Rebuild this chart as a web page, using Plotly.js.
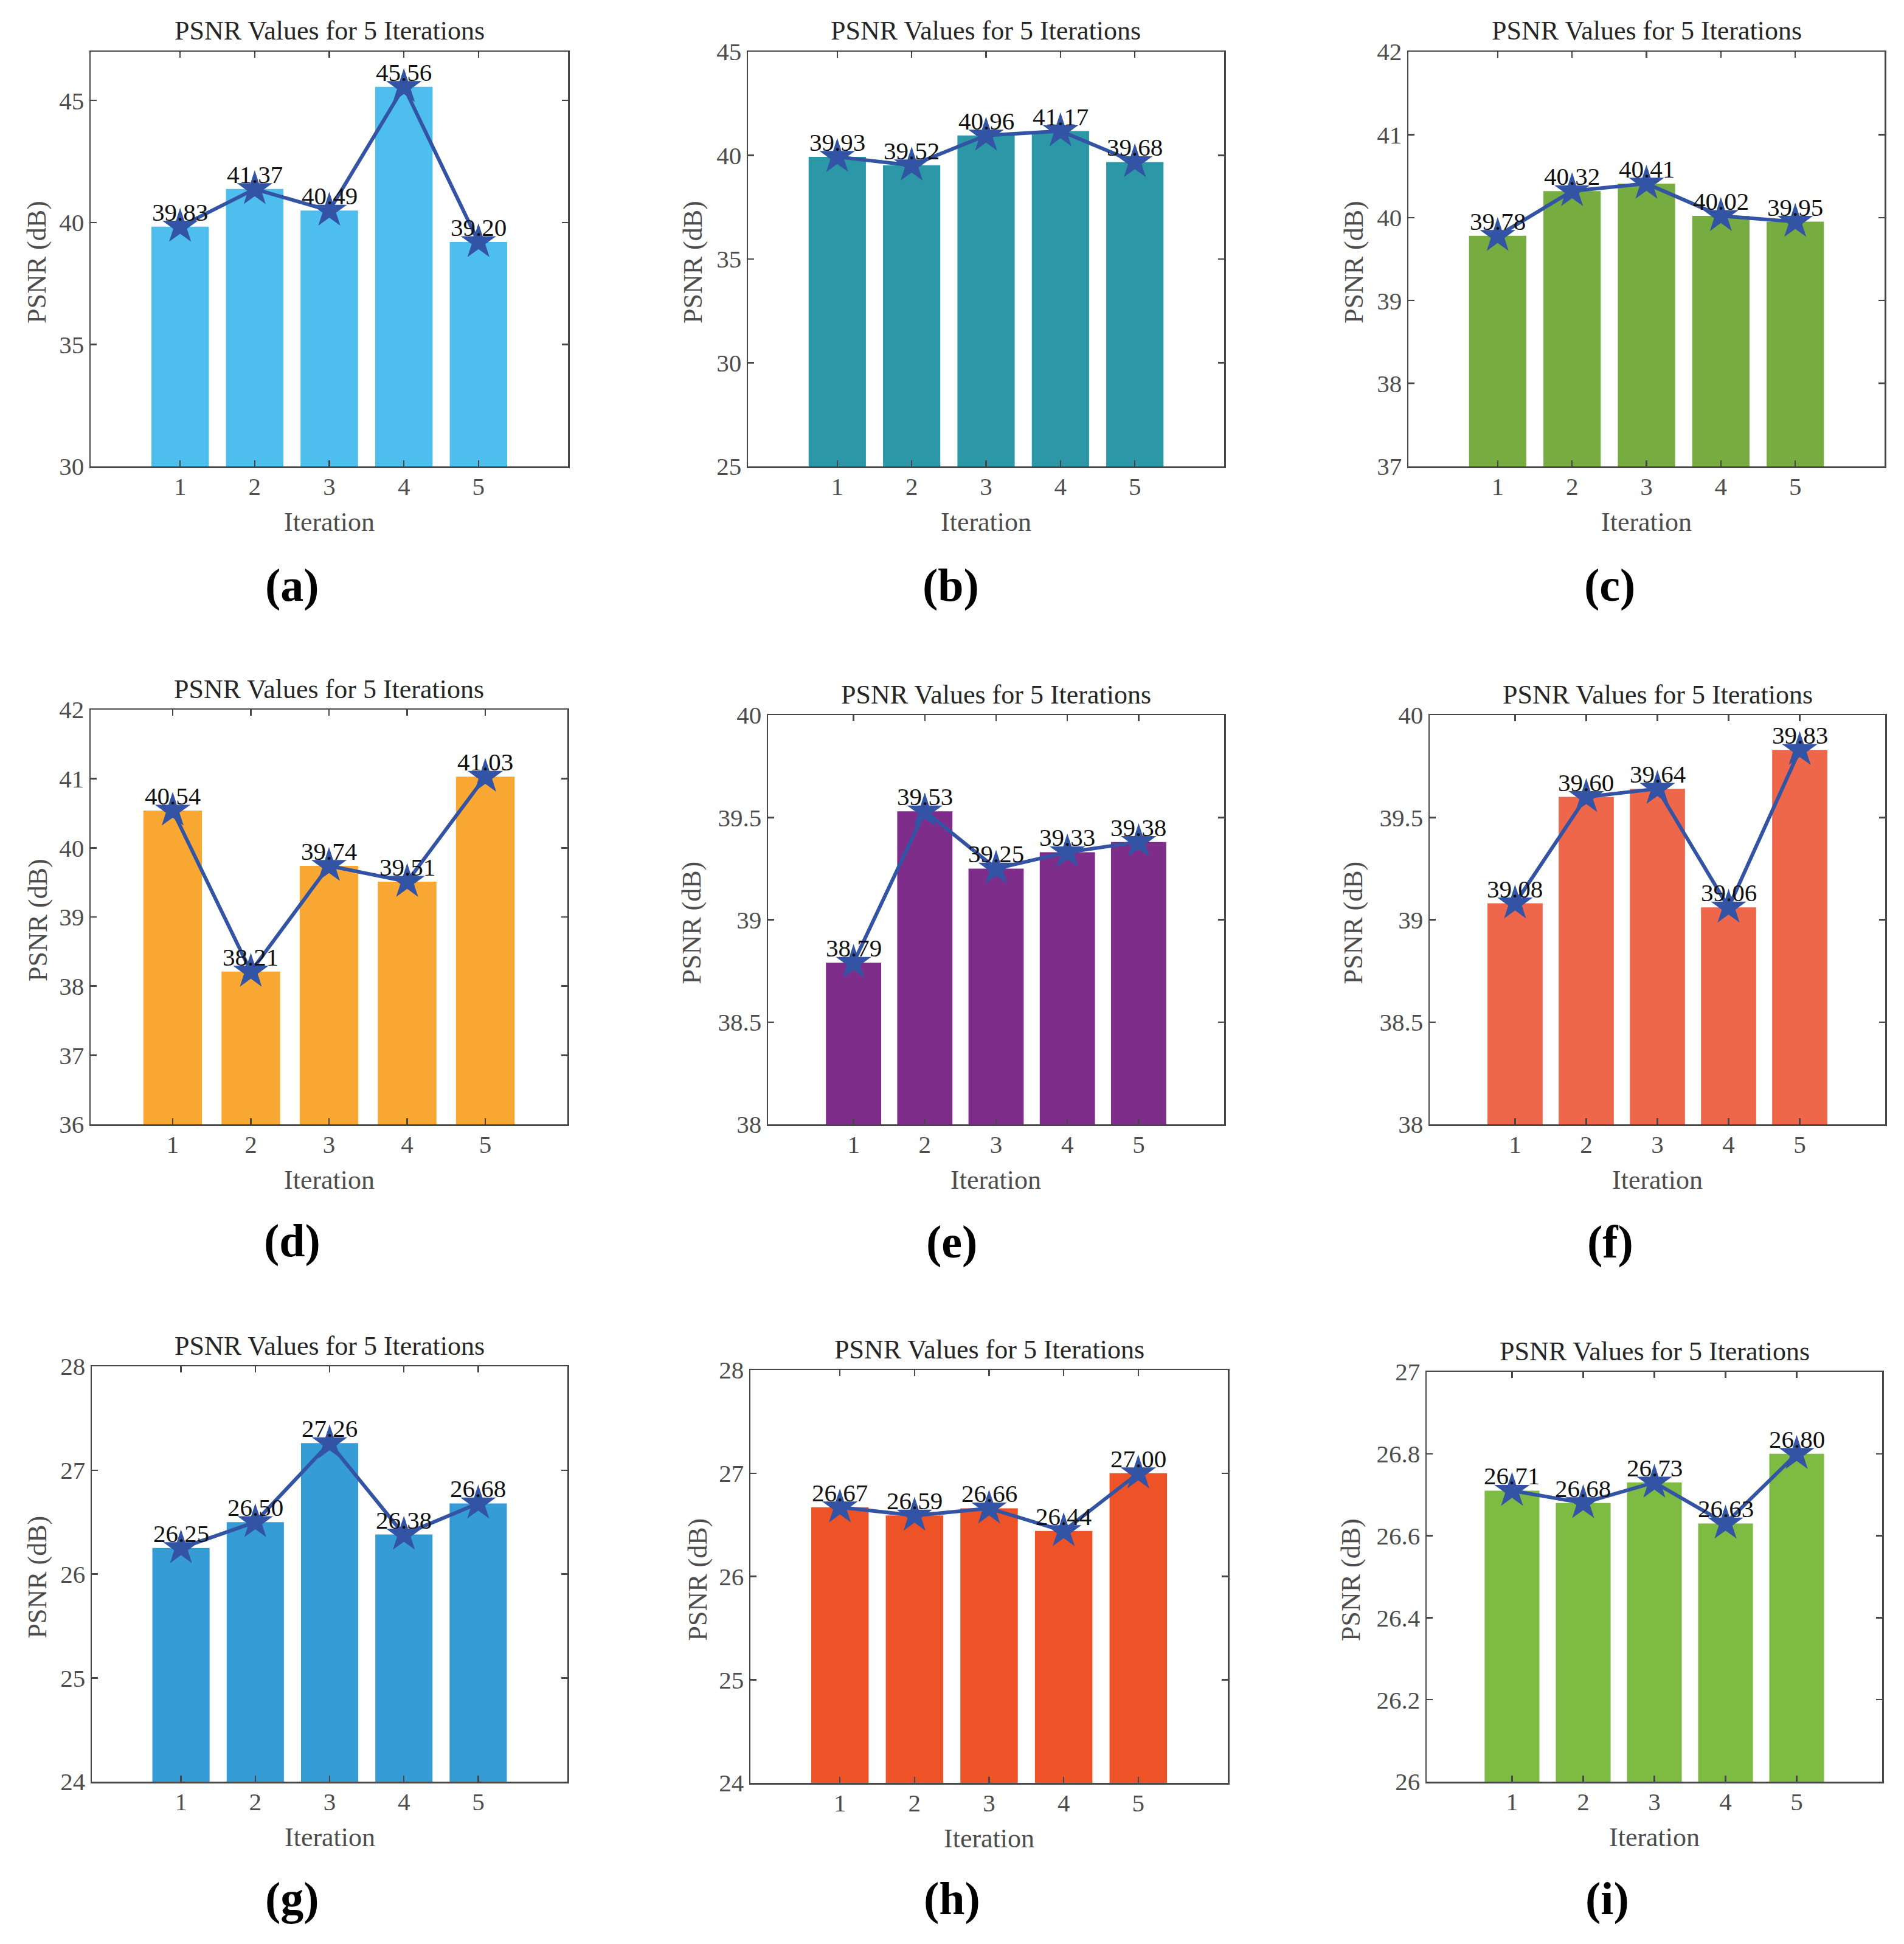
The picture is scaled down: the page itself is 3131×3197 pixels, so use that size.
<!DOCTYPE html>
<html>
<head>
<meta charset="utf-8">
<script src="https://cdn.plot.ly/plotly-3.0.1.min.js"></script>
<style>
html,body{margin:0;padding:0;background:#fff;}
#chart{width:3131px;height:3197px;}
</style>
</head>
<body>
<div id="chart"></div>
<script>
// ---------------- data ----------------
const iterations = [1, 2, 3, 4, 5];
const iterationLabels = ['1', '2', '3', '4', '5'];
const psnrA = [39.83, 41.37, 40.49, 45.56, 39.20];
const psnrB = [39.93, 39.52, 40.96, 41.17, 39.68];
const psnrC = [39.78, 40.32, 40.41, 40.02, 39.95];
const psnrD = [40.54, 38.21, 39.74, 39.51, 41.03];
const psnrE = [38.79, 39.53, 39.25, 39.33, 39.38];
const psnrF = [39.08, 39.60, 39.64, 39.06, 39.83];
const psnrG = [26.25, 26.50, 27.26, 26.38, 26.68];
const psnrH = [26.67, 26.59, 26.66, 26.44, 27.00];
const psnrI = [26.71, 26.68, 26.73, 26.63, 26.80];
const yTicksA = [30, 35, 40, 45];
const yTicksB = [25, 30, 35, 40, 45];
const yTicksC = [37, 38, 39, 40, 41, 42];
const yTicksD = [36, 37, 38, 39, 40, 41, 42];
const yTicksE = [38, 38.5, 39, 39.5, 40];
const yTicksF = [38, 38.5, 39, 39.5, 40];
const yTicksG = [24, 25, 26, 27, 28];
const yTicksH = [24, 25, 26, 27, 28];
const yTicksI = [26, 26.2, 26.4, 26.6, 26.8, 27];
const panelLabels = ['(a)', '(b)', '(c)', '(d)', '(e)', '(f)', '(g)', '(h)', '(i)'];
const chartTitle = 'PSNR Values for 5 Iterations';
const xTitle = 'Iteration';
const yTitle = 'PSNR (dB)';

// ---------------- layout / style ----------------
const W = 3131, H = 3197;
const FONT = 'Liberation Serif, Times New Roman, serif';
const AXIS_COLOR = '#474747';
const LINE_COLOR = '#3353a4';

const panels = [
  {vals: psnrA, ticks: yTicksA, yr: [30, 47], xr: [-0.2, 6.2], box: [149, 934, 85, 767],   color: '#4dbeee', bw: 0.77, ytOff: 88},
  {vals: psnrB, ticks: yTicksB, yr: [25, 45], xr: [-0.2, 6.2], box: [1230, 2013, 85, 767], color: '#2c98a7', bw: 0.77, ytOff: 90},
  {vals: psnrC, ticks: yTicksC, yr: [37, 42], xr: [-0.2, 6.2], box: [2316, 3099, 85, 767], color: '#77ac40', bw: 0.77, ytOff: 89},
  {vals: psnrD, ticks: yTicksD, yr: [36, 42], xr: [-0.05, 6.05], box: [149, 933, 1167, 1849], color: '#f9a833', bw: 0.75, ytOff: 87},
  {vals: psnrE, ticks: yTicksE, yr: [38, 40], xr: [-0.2, 6.2], box: [1263, 2013, 1176, 1849], color: '#7e2d8b', bw: 0.775, ytOff: 126},
  {vals: psnrF, ticks: yTicksF, yr: [38, 40], xr: [-0.2, 6.2], box: [2351, 3100, 1176, 1849], color: '#ee674a', bw: 0.775, ytOff: 126},
  {vals: psnrG, ticks: yTicksG, yr: [24, 28], xr: [-0.2, 6.2], box: [151, 933, 2247, 2930], color: '#369cd6', bw: 0.77, ytOff: 90},
  {vals: psnrH, ticks: yTicksH, yr: [24, 28], xr: [-0.2, 6.2], box: [1234, 2019, 2253, 2932], color: '#ee5327', bw: 0.77, ytOff: 87},
  {vals: psnrI, ticks: yTicksI, yr: [26, 27], xr: [-0.2, 6.2], box: [2346, 3095, 2256, 2930], color: '#7dbb43', bw: 0.77, ytOff: 125}
];
const labelPos = [[480, 962], [1563, 962], [2647, 962],
                  [480, 2040], [1565, 2043], [2648, 2043],
                  [480, 3122], [1565, 3122], [2643, 3122]];

const px = x => x / W;
const py = y => 1 - y / H;

const traces = [];
const layout = {
  width: W, height: H,
  margin: {l: 0, r: 0, t: 0, b: 0},
  paper_bgcolor: '#ffffff', plot_bgcolor: '#ffffff',
  showlegend: false,
  font: {family: FONT},
  annotations: []
};

panels.forEach((p, i) => {
  const n = i + 1;
  const xa = 'x' + (n === 1 ? '' : n), ya = 'y' + (n === 1 ? '' : n);
  const xk = 'xaxis' + (n === 1 ? '' : n), yk = 'yaxis' + (n === 1 ? '' : n);
  const [l, r, t, b] = p.box;

  traces.push({
    type: 'bar', x: iterations, y: p.vals, xaxis: xa, yaxis: ya,
    width: p.bw, marker: {color: p.color, line: {width: 0}}, hoverinfo: 'skip'
  });
  traces.push({
    type: 'scatter', mode: 'lines+markers', x: iterations, y: p.vals, xaxis: xa, yaxis: ya,
    line: {color: LINE_COLOR, width: 6},
    marker: {symbol: 'star', size: 44, color: LINE_COLOR, line: {width: 0}},
    cliponaxis: false, hoverinfo: 'skip'
  });

  const axisCommon = {
    showline: true, mirror: 'ticks', linecolor: AXIS_COLOR, linewidth: 2.5,
    ticks: 'inside', ticklen: 10, tickwidth: 2.5, tickcolor: AXIS_COLOR,
    showgrid: false, zeroline: false, fixedrange: true,
    tickfont: {family: FONT, size: 41, color: '#4d4d4d'}
  };
  layout[xk] = Object.assign({}, axisCommon, {
    domain: [px(l), px(r)], anchor: ya, range: p.xr,
    tickmode: 'array', tickvals: iterations, ticktext: iterationLabels,
    ticklabelstandoff: -5
  });
  layout[yk] = Object.assign({}, axisCommon, {
    domain: [py(b), py(t)], anchor: xa, range: p.yr,
    tickmode: 'array', tickvals: p.ticks
  });

  // subplot title
  layout.annotations.push({
    xref: 'paper', yref: 'paper', x: px((l + r) / 2), y: py(t - 34),
    xanchor: 'center', yanchor: 'middle', showarrow: false,
    text: chartTitle, font: {family: FONT, size: 44, color: '#262626'}
  });
  // x title
  layout.annotations.push({
    xref: 'paper', yref: 'paper', x: px((l + r) / 2), y: py(b + 91),
    xanchor: 'center', yanchor: 'middle', showarrow: false,
    text: xTitle, font: {family: FONT, size: 44, color: '#4d4d4d'}
  });
  // y title
  layout.annotations.push({
    xref: 'paper', yref: 'paper', x: px(l - p.ytOff), y: py((t + b) / 2 + 5),
    xanchor: 'center', yanchor: 'middle', showarrow: false, textangle: -90,
    text: yTitle, font: {family: FONT, size: 44, color: '#4d4d4d'}
  });
  // value labels
  p.vals.forEach((v, k) => {
    layout.annotations.push({
      xref: xa, yref: ya, x: iterations[k], y: v,
      xanchor: 'center', yanchor: 'bottom', yshift: -1, showarrow: false,
      text: v.toFixed(2), font: {family: FONT, size: 41, color: '#111111'}
    });
  });
  // panel label
  layout.annotations.push({
    xref: 'paper', yref: 'paper', x: px(labelPos[i][0]), y: py(labelPos[i][1]),
    xanchor: 'center', yanchor: 'middle', showarrow: false,
    text: '<b>' + panelLabels[i] + '</b>', font: {family: FONT, size: 76, color: '#000000'}
  });
});

Plotly.newPlot('chart', traces, layout, {staticPlot: true, displayModeBar: false});
</script>
</body>
</html>
